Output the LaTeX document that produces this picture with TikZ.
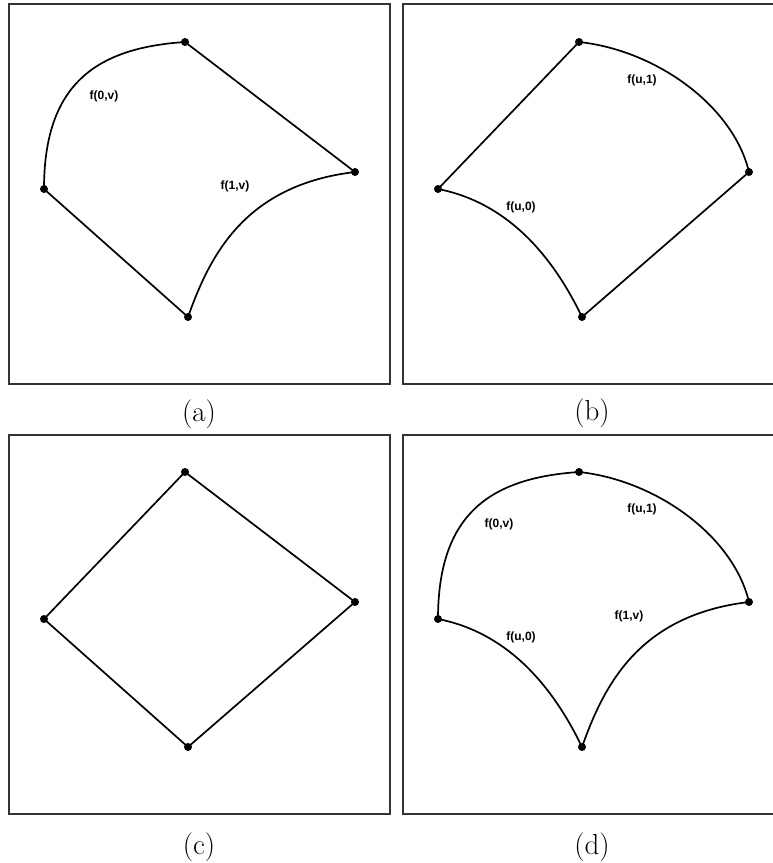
\documentclass[tikz,border=0pt]{standalone}
\usepackage{fontspec}
\newfontfamily\lblfont{Liberation Sans}
\begin{document}
\begin{tikzpicture}[x=1pt,y=-1pt,
  frame/.style={line width=1.1pt, draw=black!80},
  edge/.style={line width=1.7pt, line cap=round},
  vtx/.style={circle, fill=black, inner sep=0pt, minimum size=8pt},
  lbl/.style={font=\lblfont\bfseries\fontsize{12}{14}\selectfont, inner sep=0pt},
  capt/.style={font=\fontsize{29}{32}\selectfont, inner sep=0pt}]
\useasboundingbox (0,0) rectangle (773,863);

% ---------- panel (a)
\begin{scope}[shift={(9,4)}]
  \draw[frame] (0,0) rectangle (381,380);
  \node[vtx] (aT) at (176,38) {};
  \node[vtx] (aR) at (346,168) {};
  \node[vtx] (aL) at (35,185) {};
  \node[vtx] (aB) at (179,313) {};
  \draw[edge] (aL.center) .. controls (35,81) and (86,44) .. (aT.center);
  \draw[edge] (aT.center) -- (aR.center);
  \draw[edge] (aB.center) .. controls (201,251) and (236,181) .. (aR.center);
  \draw[edge] (aL.center) -- (aB.center);
  \node[lbl] (a0v) at (95,92) {f(0,v)};
  \node[lbl] (a1v) at (226,182) {f(1,v)};
  \node[capt] (acap) at (190,410) {(a)};
\end{scope}

% ---------- panel (b)
\begin{scope}[shift={(403,4)}]
  \draw[frame] (370,0) -- (0,0) -- (0,380) -- (370,380);
  \node[vtx] (bT) at (176,38) {};
  \node[vtx] (bR) at (346,168) {};
  \node[vtx] (bL) at (35,185) {};
  \node[vtx] (bB) at (179,313) {};
  \draw[edge] (bL.center) -- (bT.center);
  \draw[edge] (bT.center) .. controls (252,46) and (330,101) .. (bR.center);
  \draw[edge] (bB.center) -- (bR.center);
  \draw[edge] (bL.center) .. controls (92,196) and (142,236) .. (bB.center);
  \node[lbl] (bu1) at (239,76) {f(u,1)};
  \node[lbl] (bu0) at (118,203) {f(u,0)};
  \node[capt] (bcap) at (189,409) {(b)};
\end{scope}

% ---------- panel (c)
\begin{scope}[shift={(9,435)}]
  \draw[frame] (0,0) rectangle (381,379);
  \node[vtx] (cT) at (176,37) {};
  \node[vtx] (cR) at (346,167) {};
  \node[vtx] (cL) at (35,184) {};
  \node[vtx] (cB) at (179,312) {};
  \draw[edge] (cL.center) -- (cT.center) -- (cR.center) -- (cB.center) -- cycle;
  \node[capt] (ccap) at (190,412) {(c)};
\end{scope}

% ---------- panel (d)
\begin{scope}[shift={(403,435)}]
  \draw[frame] (370,0) -- (0,0) -- (0,379) -- (370,379);
  \node[vtx] (dT) at (176,37) {};
  \node[vtx] (dR) at (346,167) {};
  \node[vtx] (dL) at (35,184) {};
  \node[vtx] (dB) at (179,312) {};
  \draw[edge] (dL.center) .. controls (35,80) and (86,43) .. (dT.center);
  \draw[edge] (dT.center) .. controls (252,45) and (330,100) .. (dR.center);
  \draw[edge] (dB.center) .. controls (201,250) and (236,180) .. (dR.center);
  \draw[edge] (dL.center) .. controls (92,195) and (142,235) .. (dB.center);
  \node[lbl] (d0v) at (96,89) {f(0,v)};
  \node[lbl] (du1) at (239,74) {f(u,1)};
  \node[lbl] (d1v) at (226,181) {f(1,v)};
  \node[lbl] (du0) at (118,202) {f(u,0)};
  \node[capt] (dcap) at (189,412) {(d)};
\end{scope}
\end{tikzpicture}
\end{document}
